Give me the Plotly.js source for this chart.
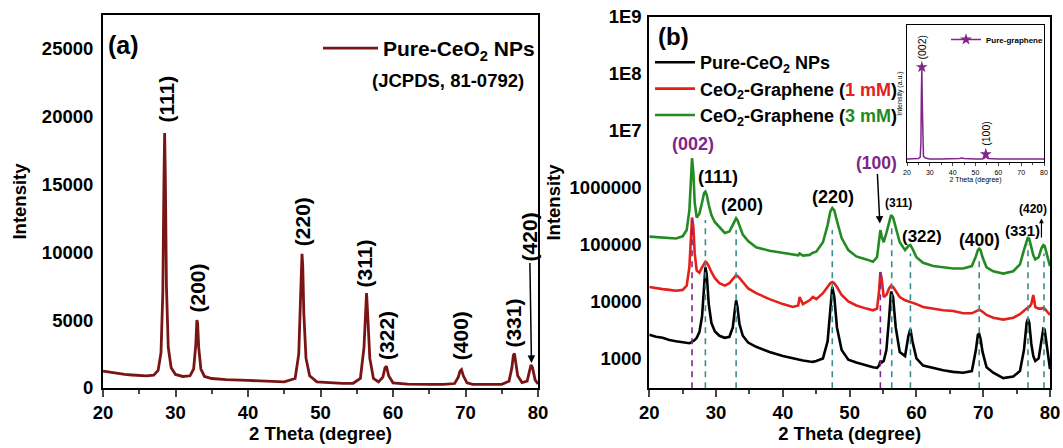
<!DOCTYPE html>
<html><head><meta charset="utf-8">
<script src="https://cdn.plot.ly/plotly-3.0.1.min.js"></script>
<style>body{margin:0;background:#fff}#chart{width:1063px;height:448px}</style>
</head><body><div id="chart"></div>
<script>
// ---------- Panel (a): Pure-CeO2 NPs (linear) ----------
const xa = [20,21,22,23,24,25,26,27,27.6,28.0,28.25,28.4,28.5,28.6,28.75,29.0,29.4,30,31,32,32.5,32.8,32.95,33.05,33.2,33.5,34,35,37,40,43,45,46.5,47.0,47.3,47.45,47.55,47.7,48.0,48.5,49.5,51,53,54.5,55.5,56.0,56.2,56.35,56.5,56.8,57.3,58.0,58.6,58.9,59.1,59.4,60,62,65,67,68.5,69.0,69.25,69.45,69.7,70.2,71,73,75,76.0,76.4,76.6,76.75,76.9,77.2,77.8,78.5,78.85,79.05,79.25,79.6,80];
const ya = [1250,1150,1080,1000,960,930,900,950,1300,2600,7000,15000,18800,15500,7500,3000,1500,1000,850,900,1400,3200,5000,4800,3000,1400,850,700,620,560,480,450,700,2500,7500,9900,9000,5500,2200,900,450,380,340,350,700,3000,6000,7000,5500,2200,700,450,800,1500,1600,900,380,280,260,260,330,800,1250,1350,900,380,270,250,270,500,1500,2400,2550,2000,900,400,500,1300,1700,1500,600,300];
const hklA = ['(111)','(200)','(220)','(311)','(322)','(400)','(331)','(420)'];

// ---------- Panel (b): log scale ----------
const xb = [20,21,22,23,24,25,25.6,26.0,26.2,26.4,26.6,26.8,27.1,27.5,27.9,28.2,28.4,28.6,28.9,29.3,29.8,30.5,31.3,32.0,32.5,32.8,33.0,33.2,33.5,34.0,34.8,36,38,40,41.5,42.3,42.5,43,44,44.5,45,46,46.7,47.1,47.4,47.7,48.1,48.8,49.8,51,52.5,53.5,54.1,54.4,54.6,54.8,55.1,55.5,55.9,56.2,56.5,56.9,57.5,58.3,58.8,59.1,59.4,60,61,62.5,64,65.5,67,68.3,68.9,69.2,69.4,69.6,69.9,70.5,71.5,73,74.5,75.5,76.1,76.5,76.7,76.9,77.2,77.5,77.8,78.3,78.7,79.0,79.2,79.5,80];
const yPure = [2600,2400,2300,2100,2000,1900,1850,1850,1900,1950,2000,2100,2300,2900,5500,18000,40000,30000,9000,4200,3000,2500,2300,2400,3500,7000,10500,8000,4000,2500,1900,1600,1300,1100,1000,950,950,920,880,870,900,1000,2000,8000,18000,12000,3500,1400,950,850,750,700,680,750,900,850,900,1400,5000,15000,12000,3500,1300,1100,2500,3300,2000,1000,750,680,620,580,560,600,1400,2600,2700,2200,1300,700,560,450,480,600,1400,4200,5000,4200,1800,1100,900,1000,2000,3300,3200,1800,650];
const y1mM = [18000,17000,16500,16000,15500,16000,19000,40000,150000,300000,200000,70000,35000,32000,40000,47000,50000,48000,42000,33000,26000,21000,19000,21000,25000,28000,29000,28000,26000,22000,17000,14000,11000,9000,8000,8500,12000,9000,10500,12000,11000,14000,18000,21000,22000,21000,18000,13000,10000,8500,7500,7000,7500,15000,33000,25000,12000,13000,17000,19000,18000,15000,12000,10500,10000,10000,9500,9000,8000,7500,7000,6800,6200,6200,6600,7000,7200,7000,6600,5800,5200,4800,5200,6000,7000,7500,7800,8000,9000,13000,8000,7500,7500,7800,7500,6800,5800];
const y3mM = [138000,135000,132000,130000,128000,140000,180000,400000,1300000,3300000,1800000,550000,300000,350000,550000,800000,850000,750000,500000,330000,250000,200000,160000,170000,220000,270000,290000,270000,210000,150000,115000,90000,78000,72000,68000,65000,70000,64000,66000,72000,75000,110000,220000,380000,440000,400000,260000,130000,80000,62000,55000,50000,60000,120000,180000,140000,110000,160000,260000,330000,300000,200000,110000,80000,95000,98000,85000,60000,48000,42000,40000,38000,38000,42000,62000,80000,85000,80000,60000,40000,34000,31000,34000,45000,80000,120000,135000,125000,90000,65000,55000,60000,85000,98000,95000,70000,42000];
const seriesB = ['Pure-CeO<sub>2</sub> NPs',
  'CeO<sub>2</sub>-Graphene (<span style="color:#e3201b">1 mM</span>)',
  'CeO<sub>2</sub>-Graphene (<span style="color:#228b22">3 mM</span>)'];
// reference peak positions (dashed guides) and their upper ends
const grPeaks = [26.4, 54.6];
const grTops = [270000, 40000];
const ceoPeaks = [28.4, 33.0, 47.4, 56.3, 59.1, 69.4, 76.7, 79.1];
const ceoTops = [270000, 180000, 180000, 200000, 70000, 60000, 100000, 70000];
const guideBottom = 300;

// ---------- Inset: Pure graphene ----------
const xi = [20,23,25,25.8,26.1,26.3,26.5,26.7,26.9,27.2,28,30,35,40,43,44,45,50,53,54,54.5,54.8,55.5,60,65,70,75,80];
const yi = [3,3,3.5,5,20,70,97,60,15,6,4,3,3,3,3.5,4,3.5,3,3,4,7,5,3.5,3,3,3,3,3];
const starX = [26.5, null, 54.5];
const starY = [97, null, 8];

const FONT = 'Liberation Sans, Arial, sans-serif';
const PURPLE = '#80258a', TEAL = '#3d8c8c';

function guide(px, tops) {
  const x = [], y = [];
  px.forEach((p, i) => { x.push(p, p, null); y.push(guideBottom, tops[i], null); });
  return {x, y};
}
const gp = guide(grPeaks, grTops), gc = guide(ceoPeaks, ceoTops);

const traces = [
  {x: xa, y: ya, xaxis: 'x', yaxis: 'y', mode: 'lines', name: 'Pure-CeO<sub>2</sub> NPs',
   line: {color: '#7a1515', width: 2.8}, legend: 'legend'},
  {x: xb, y: yPure, xaxis: 'x2', yaxis: 'y2', mode: 'lines', name: seriesB[0], line: {color: '#000', width: 2.6}, legend: 'legend2'},
  {x: xb, y: y1mM, xaxis: 'x2', yaxis: 'y2', mode: 'lines', name: seriesB[1], line: {color: '#e3201b', width: 2.6}, legend: 'legend2'},
  {x: xb, y: y3mM, xaxis: 'x2', yaxis: 'y2', mode: 'lines', name: seriesB[2], line: {color: '#228b22', width: 2.6}, legend: 'legend2'},
  {x: gp.x, y: gp.y, xaxis: 'x2', yaxis: 'y2', mode: 'lines', showlegend: false, line: {color: PURPLE, width: 1.6, dash: '6px,5px'}},
  {x: gc.x, y: gc.y, xaxis: 'x2', yaxis: 'y2', mode: 'lines', showlegend: false, line: {color: TEAL, width: 1.6, dash: '6px,5px'}},
  {x: xi, y: yi, xaxis: 'x3', yaxis: 'y3', mode: 'lines', showlegend: false, line: {color: PURPLE, width: 1.5}},
  {x: starX, y: starY, xaxis: 'x3', yaxis: 'y3', mode: 'lines+markers', connectgaps: false, name: 'Pure-graphene', legend: 'legend3',
   line: {color: PURPLE, width: 1.5}, marker: {symbol: 'star', size: 9, color: PURPLE}}
];

const bold = (size, color) => ({family: FONT, size: size, color: color || '#000', weight: 'bold'});
const H = 448, W = 1063;
const py = p => 1 - p / H, px = p => p / W;

const axBase = {showline: true, linecolor: '#000', linewidth: 2, mirror: true, showgrid: false, zeroline: false, automargin: false};

const annotations = [];
// panel (a) peak labels (rotated)
const aPos = [[28.7,19400],[33.0,5400],[47.5,10300],[56.2,7300],[59.2,1900],[69.3,1900],[76.65,2850]];
aPos.forEach((p, i) => annotations.push({xref: 'x', yref: 'y', x: p[0], y: p[1], text: hklA[i], textangle: -90,
  yanchor: 'bottom', showarrow: false, font: bold(21)}));
annotations.push({xref: 'x', yref: 'y', x: 79.1, y: 1850, text: hklA[7], textangle: -90, showarrow: true,
  ax: -2, ay: -126, arrowhead: 2, arrowsize: 1, arrowwidth: 1.5, arrowcolor: '#000', font: bold(21)});
annotations.push({xref: 'paper', yref: 'paper', x: px(106), y: py(45), xanchor: 'left', yanchor: 'middle', text: '(a)', showarrow: false, font: bold(25)});
annotations.push({xref: 'paper', yref: 'paper', x: px(526), y: py(80), xanchor: 'right', yanchor: 'middle', text: '(JCPDS, 81-0792)', showarrow: false, font: bold(18.5)});
// panel (b)
annotations.push({xref: 'paper', yref: 'paper', x: px(656), y: py(37), xanchor: 'left', yanchor: 'middle', text: '(b)', showarrow: false, font: bold(24)});
const bLab = [
  ['(002)', 26.58, 6.77, 18, PURPLE], ['(111)', 30.32, 6.19, 18], ['(200)', 33.83, 5.69, 18], ['(220)', 47.53, 5.84, 18],
  ['(311)', 57.26, 5.74, 12], ['(322)', 60.76, 5.15, 17], ['(400)', 69.38, 5.08, 17.5], ['(331)', 75.81, 5.25, 15], ['(420)', 77.46, 5.62, 12]
];
bLab.forEach(b => annotations.push({xref: 'x2', yref: 'y2', x: b[1], y: b[2], text: b[0], showarrow: false, font: bold(b[3], b[4])}));
annotations.push({xref: 'x2', yref: 'y2', x: 54.52, y: 5.37, text: '(100)', showarrow: true, ax: -3, ay: -61,
  arrowhead: 2, arrowsize: 1, arrowwidth: 1.5, arrowcolor: '#000', font: bold(17.5, PURPLE)});
annotations.push({xref: 'x2', yref: 'y2', x: 78.72, y: 5.46, ax: 78.72, ay: 5.1, axref: 'x2', ayref: 'y2', text: '', showarrow: true,
  arrowhead: 2, arrowsize: 0.8, arrowwidth: 1.2, arrowcolor: '#000'});
// inset labels
annotations.push({xref: 'x3', yref: 'y3', x: 26.5, y: 103, text: '(002)', textangle: -90, yanchor: 'bottom', showarrow: false, font: {family: FONT, size: 10.5, color: '#000'}});
annotations.push({xref: 'x3', yref: 'y3', x: 54.6, y: 14, text: '(100)', textangle: -90, yanchor: 'bottom', showarrow: false, font: {family: FONT, size: 10.5, color: '#000'}});

const layout = {
  width: W, height: H, margin: {l: 0, r: 0, t: 0, b: 0, autoexpand: false},
  paper_bgcolor: '#fff', plot_bgcolor: '#fff', showlegend: true,
  font: {family: FONT, color: '#000'},
  xaxis: Object.assign({}, axBase, {domain: [px(103), px(538)], anchor: 'y', range: [20, 80], dtick: 10,
    ticks: 'outside', ticklen: 7, tickwidth: 2, minor: {dtick: 5, ticks: 'outside', ticklen: 4, tickwidth: 2},
    tickfont: bold(18.5), title: {text: '2 Theta (degree)', font: bold(18.5), standoff: 4}}),
  yaxis: Object.assign({}, axBase, {domain: [py(388), py(15)], anchor: 'x', range: [0, 27500],
    tickvals: [0, 5000, 10000, 15000, 20000, 25000], tickformat: 'd', ticks: '', ticklabelstandoff: 4,
    tickfont: bold(18.5), title: {text: 'Intensity', font: bold(18.5), standoff: 10}}),
  xaxis2: Object.assign({}, axBase, {domain: [px(649.3), px(1050)], anchor: 'y2', range: [20, 80], dtick: 10,
    ticks: 'outside', ticklen: 7, tickwidth: 2, minor: {dtick: 5, ticks: 'outside', ticklen: 4, tickwidth: 2},
    tickfont: bold(18.5), title: {text: '2 Theta (degree)', font: bold(18.5), standoff: 4}}),
  yaxis2: Object.assign({}, axBase, {domain: [py(388), py(17)], anchor: 'x2', type: 'log', range: [2.48, 9],
    tickvals: [1e3, 1e4, 1e5, 1e6, 1e7, 1e8, 1e9], ticktext: ['1000', '10000', '100000', '1000000', '1E7', '1E8', '1E9'],
    ticks: '', ticklabelstandoff: 2, tickfont: bold(18.5), title: {text: 'Intensity', font: bold(18.5), standoff: 4}}),
  xaxis3: Object.assign({}, axBase, {domain: [px(907), px(1044)], anchor: 'y3', range: [20, 80], dtick: 10, linewidth: 1.2,
    ticks: 'outside', ticklen: 3, tickwidth: 1, minor: {dtick: 5, ticks: 'outside', ticklen: 2, tickwidth: 1},
    tickfont: {family: FONT, size: 7}, title: {text: '2 Theta (degree)', font: {family: FONT, size: 7}, standoff: 1}}),
  yaxis3: Object.assign({}, axBase, {domain: [py(162), py(25)], anchor: 'x3', range: [0, 140], linewidth: 1.2,
    showticklabels: false, ticks: '', title: {text: 'Intensity (a.u.)', font: {family: FONT, size: 7}, standoff: 2}}),
  legend: {x: px(540), xanchor: 'right', y: py(28), yanchor: 'top', bgcolor: 'rgba(0,0,0,0)', font: bold(21), itemwidth: 55},
  legend2: {x: px(650), xanchor: 'left', y: py(44), yanchor: 'top', bgcolor: 'rgba(0,0,0,0)', font: bold(18), tracegroupgap: 0, itemwidth: 40},
  legend3: {x: px(946), xanchor: 'left', y: py(25), yanchor: 'top', bgcolor: 'rgba(0,0,0,0)', font: bold(8), itemwidth: 30},
  annotations: annotations
};

Plotly.newPlot('chart', traces, layout, {displayModeBar: false, staticPlot: true});
</script></body></html>
